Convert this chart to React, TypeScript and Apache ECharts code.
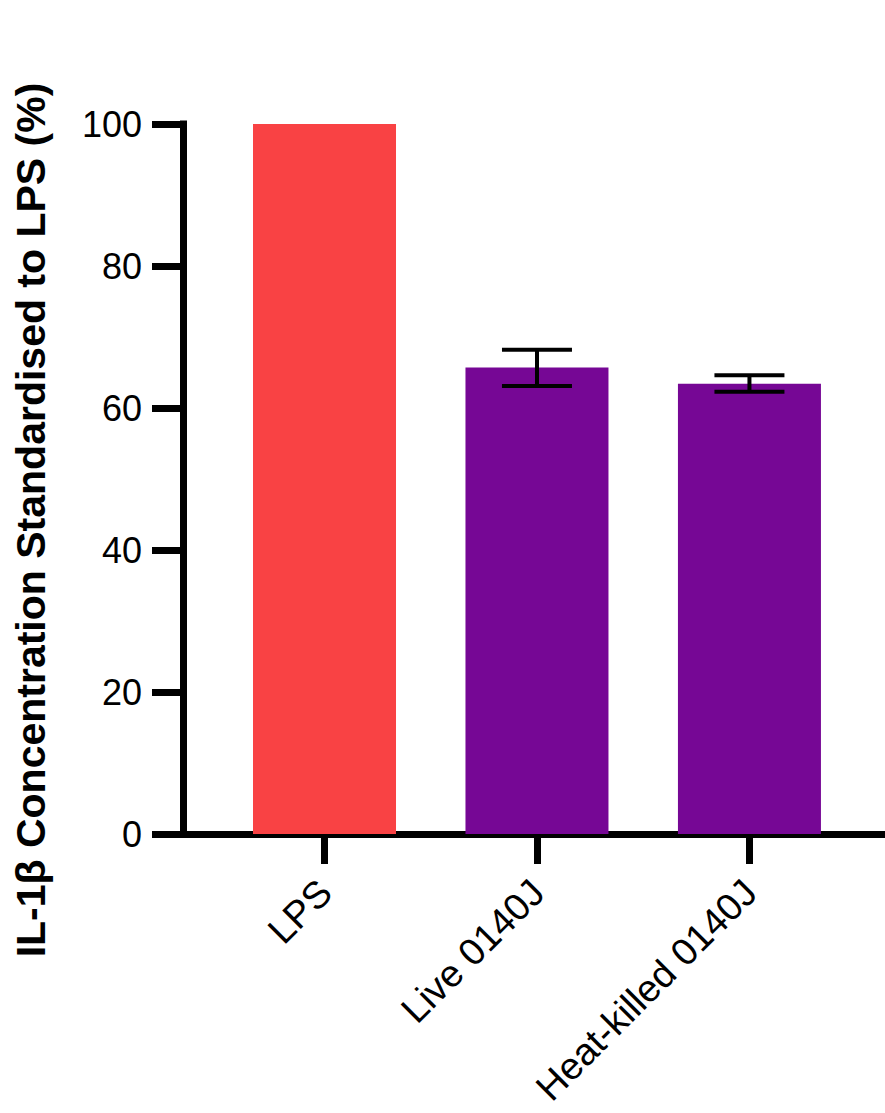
import React, { useEffect, useRef } from "react";
import * as echarts from "echarts";

// Groups along the x axis
const categories = ["LPS", "Live 0140J", "Heat-killed 0140J"];
// Mean IL-1β concentration, as % of the LPS control
const means = [100, 65.7, 63.4];
// Error bar bounds (mean ± SEM)
const errLow = [100, 63.1, 62.3];
const errHigh = [100, 68.2, 64.6];
const barColors = ["#F94244", "#760795"];
const yTicks = [0, 20, 40, 60, 80, 100];

const FONT = "'Liberation Sans', Arial, Helvetica, sans-serif";

export default function App() {
  const ref = useRef<HTMLDivElement>(null);

  useEffect(() => {
    document.body.style.margin = "0";
    const chart = echarts.init(ref.current!, null, { renderer: "svg" });

    const barData = means.map((v, i) => ({
      value: [i, v],
      itemStyle: { color: i === 0 ? barColors[0] : barColors[1] },
    }));
    const errData = categories
      .map((_, i) => [i, errLow[i], errHigh[i]])
      .filter((d) => d[2] > d[1]);

    chart.setOption({
      animation: false,
      backgroundColor: "#ffffff",
      grid: { left: 183, right: 0, top: 124, bottom: 279 },
      xAxis: {
        type: "value",
        min: -0.666,
        max: 2.638,
        splitLine: { show: false },
        axisLine: { show: true, onZero: false, lineStyle: { color: "#000", width: 7 } },
        axisTick: {
          show: true,
          customValues: [0, 1, 2],
          length: 30,
          lineStyle: { color: "#000", width: 7 },
        },
        axisLabel: {
          show: true,
          customValues: [0, 1, 2],
          formatter: (v: number) => categories[Math.round(v)] ?? "",
          rotate: 45,
          align: "right",
          verticalAlign: "top",
          margin: 26,
          padding: [0, 18, 0, 0],
          color: "#000",
          fontSize: 38,
          fontFamily: FONT,
        },
      },
      yAxis: {
        type: "value",
        min: yTicks[0],
        max: yTicks[yTicks.length - 1],
        interval: 20,
        splitLine: { show: false },
        axisLine: {
          show: true,
          onZero: false,
          lineStyle: { color: "#000", width: 7, cap: "square" },
        },
        axisTick: { show: true, length: 31, lineStyle: { color: "#000", width: 7 } },
        axisLabel: {
          margin: 41,
          color: "#000",
          fontSize: 36,
          fontFamily: FONT,
        },
      },
      graphic: [
        {
          type: "text",
          x: 31,
          y: 520,
          rotation: Math.PI / 2,
          style: {
            text: "IL-1β Concentration Standardised to LPS (%)",
            fill: "#000",
            font: `bold 41px ${FONT}`,
            textAlign: "center",
            textVerticalAlign: "middle",
          },
        },
      ],
      series: [
        {
          type: "bar",
          data: barData,
          barWidth: 143,
          z: 1,
        },
        {
          type: "custom",
          z: 5,
          data: errData,
          renderItem: (params: any, api: any) => {
            const x = api.value(0);
            const lo = api.coord([x, api.value(1)]);
            const hi = api.coord([x, api.value(2)]);
            const half = 35;
            const style = { stroke: "#000", lineWidth: 4 };
            return {
              type: "group",
              children: [
                { type: "line", shape: { x1: lo[0], y1: lo[1], x2: hi[0], y2: hi[1] }, style },
                { type: "line", shape: { x1: hi[0] - half, y1: hi[1], x2: hi[0] + half, y2: hi[1] }, style },
                { type: "line", shape: { x1: lo[0] - half, y1: lo[1], x2: lo[0] + half, y2: lo[1] }, style },
              ],
            };
          },
        },
      ],
    });

    return () => chart.dispose();
  }, []);

  return <div ref={ref} style={{ width: 885, height: 1113 }} />;
}
